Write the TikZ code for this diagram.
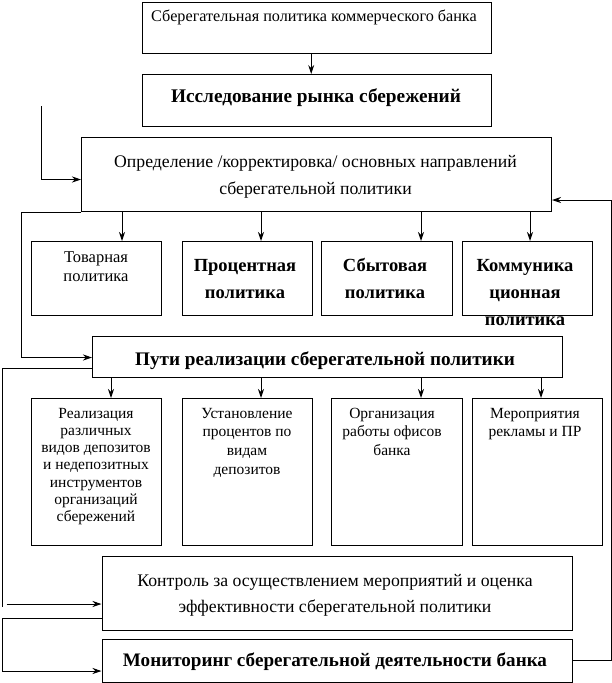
\documentclass[tikz,border=0pt]{standalone}
\usepackage{fontspec}
\setmainfont{Liberation Serif}
\usetikzlibrary{arrows.meta}
\newcommand\mlines[1]{\begin{tabular}[t]{@{}c@{}}#1\end{tabular}}
\tikzset{
  box/.style={draw, line width=1pt, inner sep=0pt, anchor=north west},
  txt/.style={anchor=base, inner sep=0pt},
  arr/.style={line width=1pt, -{Stealth[length=9pt,width=6pt,inset=3pt]}},
  ln/.style={line width=1pt},
}
\begin{document}
\begin{tikzpicture}[x=1pt,y=-1pt]
\useasboundingbox (0,0) rectangle (612,683);
% boxes
\node[box, minimum width=349pt, minimum height=50.5pt] (b1) at (142,2) {};
\node[box, minimum width=349pt, minimum height=52pt] (b2) at (142,74) {};
\node[box, minimum width=470pt, minimum height=74pt] (b3) at (81,137) {};
\node[box, minimum width=130pt, minimum height=74pt] (r2a) at (31,241) {};
\node[box, minimum width=130pt, minimum height=74pt] (r2b) at (182,241) {};
\node[box, minimum width=131pt, minimum height=74pt] (r2c) at (321,241) {};
\node[box, minimum width=130pt, minimum height=74pt] (r2d) at (462,241) {};
\node[box, minimum width=470pt, minimum height=41pt] (b4) at (92,336) {};
\node[box, minimum width=130pt, minimum height=147pt] (r3a) at (31,398) {};
\node[box, minimum width=130pt, minimum height=147pt] (r3b) at (182,398) {};
\node[box, minimum width=131pt, minimum height=147pt] (r3c) at (331,398) {};
\node[box, minimum width=130pt, minimum height=147pt] (r3d) at (472,398) {};
\node[box, minimum width=470.5pt, minimum height=74pt] (b5) at (101.5,556) {};
\node[box, minimum width=470.5pt, minimum height=43pt] (b6) at (101.5,639) {};
% texts
\node[txt, font=\fontsize{16.2}{19}\selectfont] (t1) at (314,21) {Сберегательная политика коммерческого банка};
\node[txt, font=\fontsize{19.3}{22}\selectfont\bfseries] (t2) at (316,102) {Исследование рынка сбережений};
\node[txt, font=\fontsize{17.7}{27}\selectfont] (t3) at (315.5,167) {\mlines{Определение /корректировка/ основных направлений\\сберегательной политики}};
\node[txt, font=\fontsize{16.5}{19}\selectfont] (ta) at (96,262) {\mlines{Товарная\\политика}};
\node[txt, font=\fontsize{18.5}{27}\selectfont\bfseries] (tb) at (245,271) {\mlines{Процентная\\политика}};
\node[txt, font=\fontsize{18.5}{27}\selectfont\bfseries] (tc) at (385,271) {\mlines{Сбытовая\\политика}};
\node[txt, font=\fontsize{18.5}{27}\selectfont\bfseries] (td) at (525,271) {\mlines{Коммуника\\ционная\\политика}};
\node[txt, font=\fontsize{19.2}{22}\selectfont\bfseries] (t4) at (325,365) {Пути реализации сберегательной политики};
\node[txt, font=\fontsize{15.5}{17.3}\selectfont] (ua) at (96,418) {\mlines{Реализация\\различных\\видов депозитов\\и недепозитных\\инструментов\\организаций\\сбережений}};
\node[txt, font=\fontsize{15.5}{18.7}\selectfont] (ub) at (247,418) {\mlines{Установление\\процентов по\\видам\\депозитов}};
\node[txt, font=\fontsize{15.5}{18.7}\selectfont] (uc) at (392,418) {\mlines{Организация\\работы офисов\\банка}};
\node[txt, font=\fontsize{15.5}{18.7}\selectfont] (ud) at (535,418) {\mlines{Мероприятия\\рекламы и ПР}};
\node[txt, font=\fontsize{17.7}{26}\selectfont] (t5) at (335,586.7) {\mlines{Контроль за осуществлением мероприятий и оценка\\эффективности сберегательной политики}};
\node[txt, font=\fontsize{19.1}{22}\selectfont\bfseries] (t6) at (335,666.7) {Мониторинг сберегательной деятельности банка};
% connectors
\draw[arr] ([xshift=-5.8pt]b1.south) -- ([xshift=-5.8pt]b1.south |- b2.north);
\coordinate (s0) at (41,106);
\draw[arr] (s0) |- ([yshift=-5pt]b3.west);
\foreach \dx/\tg in {41/r2a,180/r2b,340/r2c,449/r2d}
  \draw[arr] ([xshift=\dx pt]b3.south west) -- ([xshift=\dx pt]b3.south west |- \tg.north);
\draw[arr] (b3.south west) -- ++(-60,0) |- ([yshift=-0.5pt]b4.west);
\foreach \dx/\tg in {19/r3a,169/r3b,329/r3c,449/r3d}
  \draw[arr] ([xshift=\dx pt]b4.south west) -- ([xshift=\dx pt]b4.south west |- \tg.north);
\coordinate (c1) at (2,607);
\draw[ln] ([yshift=-11pt]b4.west) -| (c1);
\coordinate (c1b) at (6.5,604);
\draw[arr] (c1b) -- (c1b -| b5.west);
\coordinate (c2) at (2,671);
\draw[arr] ([yshift=-25pt]b5.west) -| (c2) -- (c2 -| b6.west);
\coordinate (c3) at (611,200);
\draw[arr] ([yshift=0.5pt]b6.east) -| (c3) -- (c3 -| b3.east);
\end{tikzpicture}
\end{document}
